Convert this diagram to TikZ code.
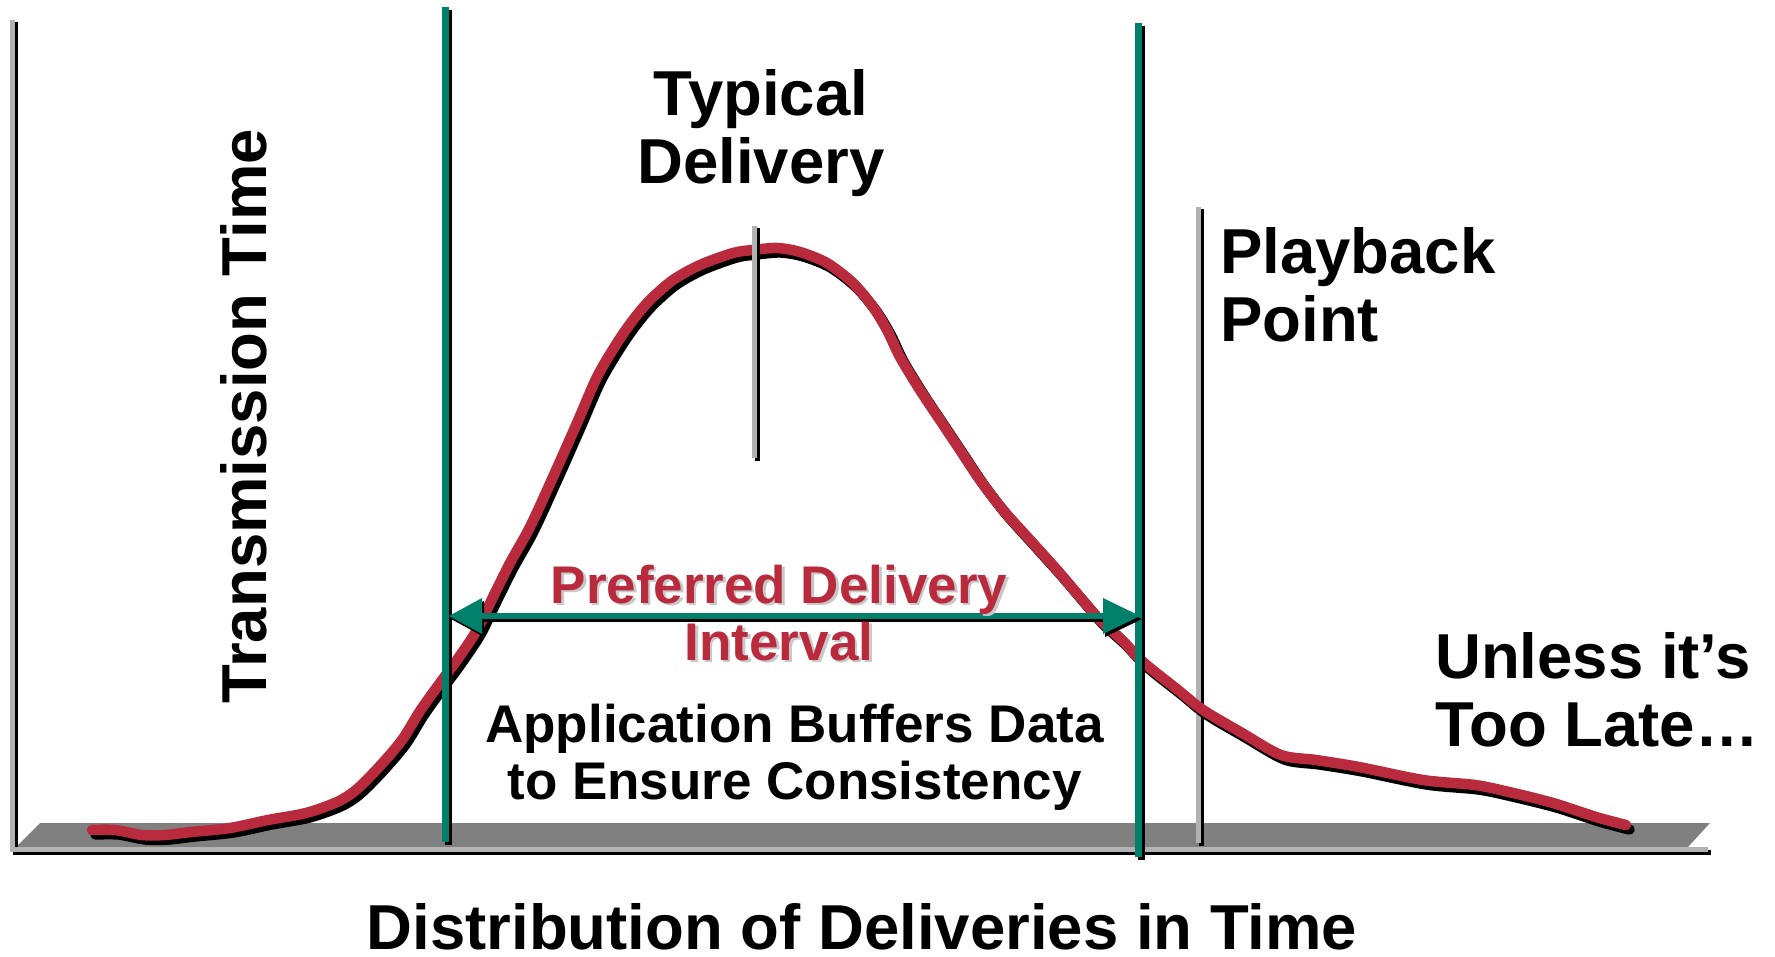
\documentclass[tikz,border=0pt]{standalone}
\usepackage{fontspec}
\setmainfont{Liberation Sans}
\definecolor{curvered}{RGB}{185,43,60}
\definecolor{intervalgreen}{RGB}{0,128,106}
\definecolor{floorgray}{RGB}{128,128,128}
\definecolor{axisgray}{RGB}{178,178,178}
\definecolor{textshade}{RGB}{200,200,200}
\newcommand\labelstack[2]{\begin{tabular}[t]{@{}#1@{}}#2\end{tabular}}
\tikzset{
  bigtext/.style={font=\fontsize{63.5}{68}\selectfont\bfseries, inner sep=0pt},
  midtext/.style={font=\fontsize{53}{57}\selectfont\bfseries, inner sep=0pt},
  grayrule/.style={draw=axisgray, line width=5pt,
    preaction={draw=black, line width=5pt, transform canvas={xshift=2.5pt, yshift=-2.5pt}}},
  greenrule/.style={draw=intervalgreen, line width=7pt,
    preaction={draw=black, line width=7pt, transform canvas={xshift=3pt, yshift=-3pt}}},
  curvestroke/.style={draw=curvered, line width=10.5pt, line cap=round, line join=round,
    preaction={draw=black, line width=10.5pt, line cap=round, line join=round,
      transform canvas={xshift=3.5pt, yshift=-4.5pt}}},
}
\begin{document}
\begin{tikzpicture}[x=1pt, y=-1pt]
\useasboundingbox (0,0) rectangle (1775,957);

% floor of the chart
\fill[floorgray] (16,847) -- (40,823) -- (1710,823) -- (1688,847) -- cycle;

% axes
\coordinate (ytop) at (12.5,20);
\coordinate (ybot) at (12.5,852);
\coordinate (xstart) at (10,849.5);
\coordinate (xend) at (1708,849.5);
\draw[grayrule] (ytop) -- (ybot);
\draw[grayrule] (xstart) -- (xend);

% playback point marker
\coordinate (playtop) at (1198.5,207);
\coordinate (playbot) at (1198.5,843);
\draw[grayrule] (playtop) -- (playbot);

% distribution of deliveries
\draw[curvestroke] plot[smooth, tension=0.5] coordinates {
 (92,830) (115,830) (142,835) (165,835) (191,832) (230,828) (268,820) (306,813)
 (337,802) (356,790) (379,767) (402,740) (420,711) (440,683) (457,660) (477,630)
 (493,597) (510,563) (530,527) (553,477) (577,423) (597,377) (617,343) (633,320)
 (650,300) (673,280) (700,265) (733,253) (753,250) (777,248) (800,252) (827,263)
 (853,283) (873,307) (887,330) (900,357) (920,390) (940,420) (960,450) (980,480)
 (1003,510) (1030,540) (1057,570) (1080,597) (1100,620) (1122,640) (1143,662)
 (1178,690) (1203,710) (1242,733) (1281,755) (1316,760) (1359,767) (1423,780)
 (1475,785) (1509,792) (1553,803) (1596,817) (1626,825)};

% typical delivery marker
\coordinate (typtop) at (754.5,226);
\coordinate (typbot) at (754.5,458);
\draw[grayrule] (typtop) -- (typbot);

% bounds of the preferred interval
\coordinate (lefttop) at (445,7);
\coordinate (leftbot) at (445,842);
\coordinate (righttop) at (1138,23);
\coordinate (rightbot) at (1138,857);
\draw[greenrule] (lefttop) -- (leftbot);
\draw[greenrule] (righttop) -- (rightbot);

% double arrow of the interval
\coordinate (ltip) at (449,616);
\coordinate (rtip) at (1140,616);
\fill[black] ([shift={(2,3)}]ltip) -- ++(33,-18) -- ++(0,36) -- cycle;
\fill[black] ([shift={(2,3)}]rtip) -- ++(-37,-18) -- ++(0,36) -- cycle;
\draw[black, line width=6pt] (482,619) -- (1103,619);
\draw[intervalgreen, line width=6pt] (482,616) -- (1103,616);
\fill[intervalgreen] (ltip) -- ++(33,-18) -- ++(0,36) -- cycle;
\fill[intervalgreen] (rtip) -- ++(-37,-18) -- ++(0,36) -- cycle;

% labels
\node[bigtext, anchor=base] (typical) at (761,116) {\labelstack{c}{Typical\\Delivery}};
\node[bigtext, anchor=base west] (playback) at (1220,274) {\labelstack{l}{Playback\\Point}};
\node[bigtext, anchor=base west] (toolate) at (1435,678) {\labelstack{l}{Unless it’s\\Too Late…}};
\node[bigtext, anchor=base, rotate=90] (transmission) at (266,416) {Transmission Time};
\node[midtext, anchor=base, text=textshade] (preferredshade) at (781.5,605.5)
  {\labelstack{c}{Preferred Delivery\\Interval}};
\node[midtext, anchor=base, text=curvered] (preferred) at (779,603)
  {\labelstack{c}{Preferred Delivery\\Interval}};
\node[midtext, anchor=base] (buffers) at (794.5,742)
  {\labelstack{c}{Application Buffers Data\\to Ensure Consistency}};
\node[bigtext, anchor=base] (distribution) at (862,949) {Distribution of Deliveries in Time};
\end{tikzpicture}
\end{document}
